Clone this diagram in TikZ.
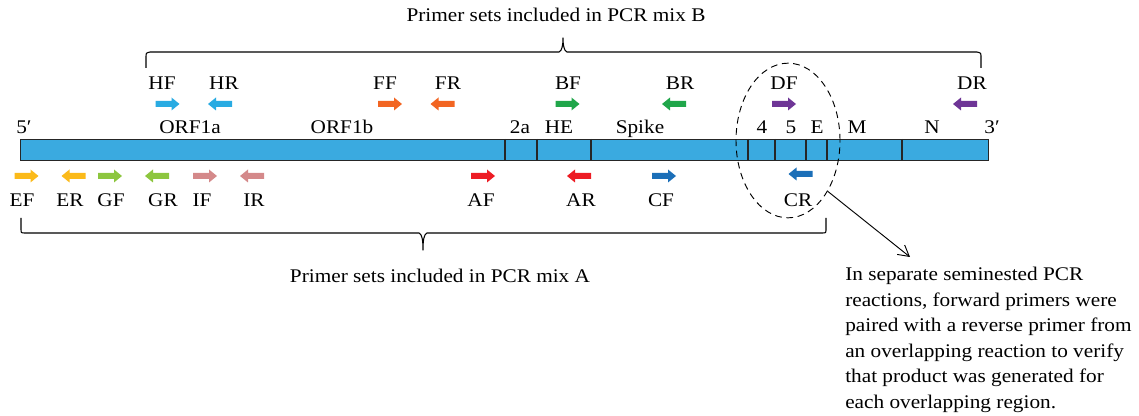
\documentclass[tikz,border=0pt]{standalone}
\usepackage{fontspec}
\setmainfont{Liberation Serif}[FakeStretch=1.1]
\usetikzlibrary{shapes.geometric,arrows.meta}
\definecolor{barcol}{RGB}{58,170,224}
\definecolor{hcol}{RGB}{41,171,226}
\definecolor{fcol}{RGB}{242,101,34}
\definecolor{bcol}{RGB}{32,166,74}
\definecolor{dcol}{RGB}{110,53,150}
\definecolor{ecol}{RGB}{251,186,26}
\definecolor{gcol}{RGB}{141,198,63}
\definecolor{icol}{RGB}{212,137,138}
\definecolor{acol}{RGB}{237,28,36}
\definecolor{ccol}{RGB}{27,111,184}
\tikzset{
  fwd/.pic={\fill (-12,-3) -- (4,-3) -- (4,-6.5) -- (12,0) -- (4,6.5) -- (4,3) -- (-12,3) -- cycle;},
  rev/.pic={\fill (12,-3) -- (-4,-3) -- (-4,-6.5) -- (-12,0) -- (-4,6.5) -- (-4,3) -- (12,3) -- cycle;},
  lbl/.style={anchor=base,inner sep=0pt,font=\fontsize{14.5}{17}\selectfont},
  brace/.style={line width=0.8pt,line join=round},
}
\begin{document}
\begin{tikzpicture}[x=0.75pt,y=-0.75pt]
\useasboundingbox (0,0) rectangle (1139,416);
% genome bar
\node[draw=black!85,line width=0.9pt,fill=barcol,minimum width=726pt,minimum height=15.75pt,inner sep=0pt,anchor=north west] (bar) at (20,139) {};
\foreach \x in {505,537,591,748,775,806,827,902}
  \draw[black!85,line width=0.9pt] (\x,139) -- (\x,160);
% gene labels
\node[lbl] (p5) at (24,134) {5′};
\node[lbl] (orf1a) at (190,134) {ORF1a};
\node[lbl] (orf1b) at (342,134) {ORF1b};
\node[lbl] (g2a) at (520,134) {2a};
\node[lbl] (he) at (559,134) {HE};
\node[lbl] (spike) at (640,134) {Spike};
\node[lbl] (g4) at (762,134) {4};
\node[lbl] (g5) at (791,134) {5};
\node[lbl] (ge) at (817,134) {E};
\node[lbl] (gm) at (857,134) {M};
\node[lbl] (gn) at (932,134) {N};
\node[lbl] (p3) at (992,134) {3′};
% top primers
\pic[fill=hcol] at (167.5,104) {fwd};
\pic[fill=hcol] at (220,104) {rev};
\pic[fill=fcol] at (390,104) {fwd};
\pic[fill=fcol] at (442.5,104) {rev};
\pic[fill=bcol] at (567.5,104) {fwd};
\pic[fill=bcol] at (674,104) {rev};
\pic[fill=dcol] at (784,104) {fwd};
\pic[fill=dcol] at (965,104) {rev};
\node[lbl] (hf) at (162,90) {HF};
\node[lbl] (hr) at (224,90) {HR};
\node[lbl] (ff) at (385,90) {FF};
\node[lbl] (fr) at (448,90) {FR};
\node[lbl] (bf) at (568,90) {BF};
\node[lbl] (br) at (680,90) {BR};
\node[lbl] (df) at (784,90) {DF};
\node[lbl] (dr) at (972,90) {DR};
% bottom primers
\pic[fill=ecol] at (26.5,176) {fwd};
\pic[fill=ecol] at (73.5,176) {rev};
\pic[fill=gcol] at (110,176) {fwd};
\pic[fill=gcol] at (157,176) {rev};
\pic[fill=icol] at (205,176) {fwd};
\pic[fill=icol] at (252,176) {rev};
\pic[fill=acol] at (483,176) {fwd};
\pic[fill=acol] at (579,176) {rev};
\pic[fill=ccol] at (664,176) {fwd};
\pic[fill=ccol] at (800.5,174) {rev};
\node[lbl] (ef) at (22,207) {EF};
\node[lbl] (er) at (70,207) {ER};
\node[lbl] (gf) at (111,207) {GF};
\node[lbl] (gr) at (163,207) {GR};
\node[lbl] (if) at (202,207) {IF};
\node[lbl] (ir) at (254,207) {IR};
\node[lbl] (af) at (481,207) {AF};
\node[lbl] (ar) at (581,207) {AR};
\node[lbl] (cf) at (661,207) {CF};
\node[lbl] (cr) at (798,207) {CR};
% top brace
\draw[brace] (146,68) -- (146,57) .. controls (146,53) .. (150,52) -- (559,52)
  .. controls (562,51) and (563,45) .. (563,38) .. controls (563,45) and (564,51) .. (567,52)
  -- (977,52) .. controls (981,53) .. (981,57) -- (981,68);
\node[lbl] (mixb) at (556,22) {Primer sets included in PCR mix B};
% bottom brace
\draw[brace] (21,218) -- (21,229) .. controls (21,233) .. (25,233) -- (419,233)
  .. controls (422,234) and (423,240) .. (423,250) .. controls (423,240) and (424,234) .. (427,233)
  -- (822,233) .. controls (826,233) .. (826,229) -- (826,218);
\node[lbl] (mixa) at (440,283) {Primer sets included in PCR mix A};
% dashed ellipse
\node[ellipse,draw,dashed,dash pattern=on 5pt off 3.5pt,line width=0.7pt,minimum width=78pt,minimum height=116pt,inner sep=0pt] (ell) at (788,140.5) {};
% note
\node[anchor=north west,align=left,inner sep=0pt,font=\fontsize{14.5}{19.1}\selectfont] (note) at (845,267)
  {In separate seminested PCR\\reactions, forward primers were\\paired with a reverse primer from\\an overlapping reaction to verify\\that product was generated for\\each overlapping region.};
\coordinate (tip) at (910,257);
\draw[-{Straight Barb[length=8pt,width=9pt]},line width=0.7pt] (ell.-52) -- (tip);
\end{tikzpicture}
\end{document}
